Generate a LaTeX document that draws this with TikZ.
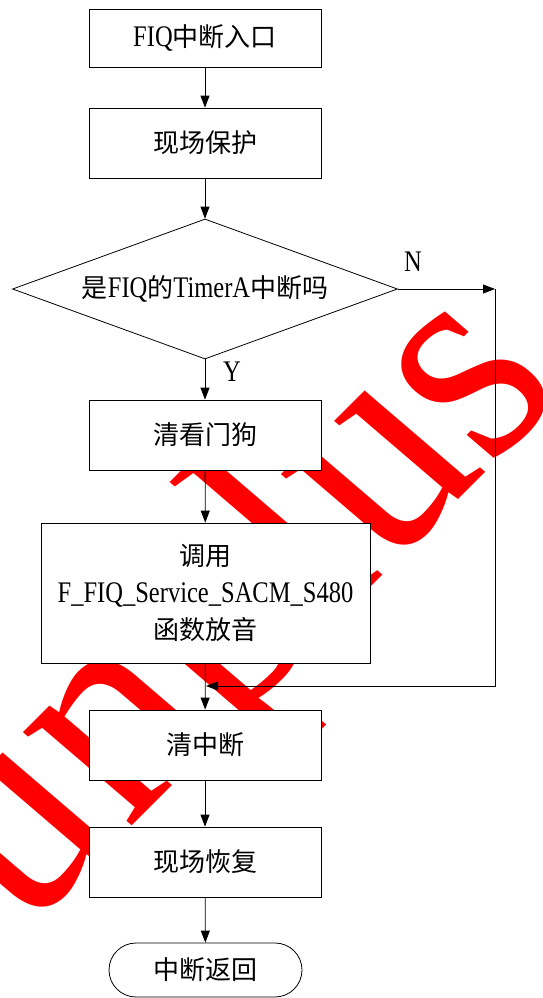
\documentclass[tikz,border=0pt]{standalone}
\usepackage{fontspec}
\setmainfont{Liberation Serif}[Scale=1.15,FakeStretch=0.82]
\newfontfamily\cjk{Noto Sans CJK SC}
\newfontfamily\wmfont{Liberation Serif}
\usetikzlibrary{shapes.geometric,arrows.meta}

\begin{document}
\begin{tikzpicture}[x=1pt,y=-1pt,
  txt/.style={font=\fontsize{26}{37}\selectfont},
  stepbox/.style={txt,draw,fill=white,line width=0.8pt,inner sep=0pt,
    minimum width=232pt,minimum height=70pt,align=center},
  decide/.style={txt,draw,fill=white,line width=0.8pt,shape=diamond,aspect=2.75,
    inner sep=0pt,minimum width=385pt,minimum height=140pt},
  term/.style={txt,draw,fill=white,line width=0.8pt,rounded corners=27pt,inner sep=0pt,
    minimum width=193pt,minimum height=54pt},
  flow/.style={line width=0.8pt,-{Triangle[length=12pt,width=9pt]}},
  wm/.style={text=red,inner sep=0pt,font=\wmfont\fontsize{310}{310}\selectfont}]

\useasboundingbox (0,0) rectangle (542,998);
\fill[white] (0,0) rectangle (542,998);
\clip (0,0) rectangle (542,998);

% red company watermark behind the chart (slanted, slightly sheared)
\node[wm,anchor=base west,cm={0.656,0.656,-0.765,0.655,(0,0)}] (wmark) at (-87.7,1045.7) {Sunplus};

% flow steps
\node[stepbox,minimum height=58pt] (entry) at (205,38) {FIQ{\cjk 中断入口}};
\node[stepbox] (save) at (205,143) {\cjk 现场保护};
\node[decide] (isfiq) at (205,289) {{\cjk 是}FIQ{\cjk 的}TimerA{\cjk 中断吗}};
\node[stepbox] (wdog) at (205,435) {\cjk 清看门狗};
\node[stepbox,minimum width=329pt,minimum height=140pt] (play) at (205.5,593)
  {{\cjk 调用}\\F\_FIQ\_Service\_SACM\_S480\\{\cjk 函数放音}};
\node[stepbox] (clr) at (205,745) {\cjk 清中断};
\node[stepbox] (restore) at (205,862) {\cjk 现场恢复};
\node[term] (ret) at (205.5,970) {\cjk 中断返回};

% branch labels
\node[txt,inner sep=0pt] (nlab) at (413,262) {N};
\node[txt,inner sep=0pt] (ylab) at (232,372) {Y};

% bypass route for the N branch
\coordinate (corner) at (495,289);
\coordinate (merge) at (206,686);

% connectors
\draw[flow] (entry) -- (save);
\draw[flow] (save) -- (isfiq);
\draw[flow] (isfiq) -- (wdog);
\draw[flow] (wdog) -- (play);
\draw[flow] (play) -- (clr);
\draw[flow] (clr) -- (restore);
\draw[flow] (restore) -- (ret);
\draw[flow] (isfiq.east) -- (corner);
\draw[flow] (corner) |- (merge);
\end{tikzpicture}
\end{document}
